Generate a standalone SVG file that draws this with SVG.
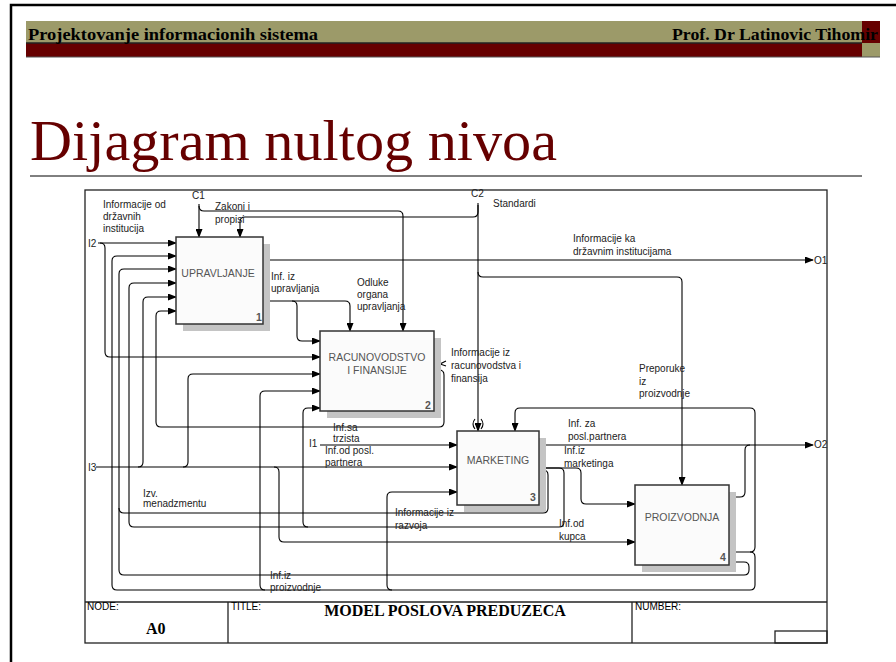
<svg xmlns="http://www.w3.org/2000/svg" width="896" height="662" viewBox="0 0 896 662">
<defs>
<marker id="ah" markerWidth="9" markerHeight="7" refX="8" refY="3.5" orient="auto" markerUnits="userSpaceOnUse">
<path d="M0,0 L9,3.5 L0,7 z" fill="#000"/>
</marker>
<style>
.c{fill:none;stroke:#000;stroke-width:1.1}
.a{marker-end:url(#ah)}
.t{font-family:"Liberation Sans",Arial,sans-serif;font-size:10px;fill:#222}
.bl{font-family:"Liberation Sans",Arial,sans-serif;font-size:10.5px;fill:#555;text-anchor:middle}
.bn{font-family:"Liberation Sans",Arial,sans-serif;font-size:10.5px;fill:#555;font-weight:bold}
.box{fill:#fbfbfb;stroke:#333;stroke-width:1.5}
.sh{fill:#c4c4c4}
.f{fill:none;stroke:#222;stroke-width:1.3}
.tb{font-family:"Liberation Sans",Arial,sans-serif;font-size:10px;fill:#000}
</style>
</defs>
<rect width="896" height="662" fill="#fff"/>
<path d="M11,662 V5 H896" fill="none" stroke="#000" stroke-width="2.5"/>
<g id="header">
<rect x="26" y="21" width="836" height="22" fill="#9c9a69"/>
<rect x="26" y="43" width="836" height="14" fill="#660000"/>
<rect x="862" y="21" width="18" height="22" fill="#660000"/>
<rect x="862" y="43" width="18" height="14" fill="#9c9a69"/>
<line x1="26" y1="43" x2="862" y2="43" stroke="#222" stroke-width="1.5"/>
<line x1="26" y1="57" x2="880" y2="57" stroke="#555" stroke-width="1"/>
<text x="28" y="40" font-family="Liberation Serif,serif" font-weight="bold" font-size="17" textLength="290" lengthAdjust="spacingAndGlyphs">Projektovanje informacionih sistema</text>
<text x="672" y="40" font-family="Liberation Serif,serif" font-weight="bold" font-size="17" textLength="206" lengthAdjust="spacingAndGlyphs">Prof. Dr Latinovic Tihomir</text>
</g>
<text x="30" y="160" font-family="Liberation Serif,serif" font-size="56" fill="#660000" textLength="527" lengthAdjust="spacingAndGlyphs">Dijagram nultog nivoa</text>
<line x1="30" y1="176" x2="862" y2="176" stroke="#000" stroke-width="1"/>
<g id="frame">
<rect x="85" y="190" width="742" height="453" class="f"/>
<line x1="85" y1="602" x2="827" y2="602" class="f"/>
<line x1="228" y1="602" x2="228" y2="643" class="f"/>
<line x1="632" y1="602" x2="632" y2="643" class="f"/>
<rect x="775" y="631" width="52" height="12" class="f"/>
<text x="87" y="610" class="tb">NODE:</text>
<text x="231" y="610" class="tb">TITLE:</text>
<text x="635" y="610" class="tb">NUMBER:</text>
<text x="146" y="634" font-family="Liberation Serif,serif" font-weight="bold" font-size="16">A0</text>
<text x="445" y="616" font-family="Liberation Serif,serif" font-weight="bold" font-size="16" text-anchor="middle">MODEL POSLOVA PREDUZECA</text>
</g>
<g id="connectors">
<path class="c a" d="M199,204 V237"/>
<path class="c a" d="M199,206 Q199,211 204,211 H398 Q403,211 403,216 V331"/>
<path class="c a" d="M478,205 V212 Q478,217 473,217 H245 Q240,217 240,222 V237"/>
<path class="c a" d="M478,203 V431"/>
<path class="c" d="M475,419 Q471,424 475,429 M481,419 Q485,424 481,429"/>
<path class="c a" d="M478,272 Q478,277 483,277 H677 Q682,277 682,282 V485"/>
<path class="c a" d="M263,260 H813"/>
<path class="c a" d="M263,301 H345 Q350,301 350,306 V331"/>
<path class="c a" d="M292,301 Q297,301 297,306 V336 Q297,341 302,341 H320"/>
<path class="c a" d="M98,243 H176"/>
<path class="c a" d="M100,243 Q105,243 105,248 V352 Q105,357 110,357 H320"/>
<path class="c a" d="M729,552 H750 Q755,552 755,557 V585 Q755,590 750,590 H117 Q112,590 112,585 V261 Q112,256 117,256 H176"/>
<path class="c a" d="M750,552 Q755,552 755,547 V413 Q755,408 750,408 H520 Q515,408 515,413 V431"/>
<path class="c a" d="M265,590 Q260,590 260,585 V396 Q260,391 265,391 H320"/>
<path class="c a" d="M392,590 Q387,590 387,585 V497 Q387,492 392,492 H457"/>
<path class="c a" d="M729,562 H744 Q749,562 749,567 V570 Q749,575 744,575 H124 Q119,575 119,570 V274 Q119,269 124,269 H176"/>
<path class="c" d="M539,470 H543 Q548,470 548,475 V508 Q548,513 543,513 H124 Q119,513 119,508"/>
<path class="c a" d="M539,468 H559 Q564,468 564,473 V522 Q564,527 559,527 H134 Q129,527 129,522 V288 Q129,283 134,283 H176"/>
<path class="c a" d="M308,527 Q303,527 303,522 V413 Q303,408 308,408 H320"/>
<path class="c a" d="M539,468 H576 Q581,468 581,473 V499 Q581,504 586,504 H635"/>
<path class="c a" d="M539,445 H813"/>
<path class="c" d="M729,497 H740 Q745,497 745,492 V450 Q745,445 750,445"/>
<path class="c a" d="M434,370 H439 Q444,370 444,375 V422 Q444,427 439,427 H161 Q156,427 156,422 V316 Q156,311 161,311 H176"/>
<path class="c a" d="M96,467 H457"/>
<path class="c a" d="M138,467 Q143,467 143,462 V302 Q143,297 148,297 H176"/>
<path class="c a" d="M183,467 Q188,467 188,462 V379 Q188,374 193,374 H320"/>
<path class="c a" d="M274,467 Q279,467 279,472 V537 Q279,542 284,542 H635"/>
<path class="c a" d="M320,445 H457"/>
<path class="c" d="M446,361 L440,364 L446,366" stroke-width="0.8"/>
</g>
<g id="n1">
<rect x="183" y="244" width="87" height="87" class="sh"/>
<rect x="176" y="237" width="87" height="87" class="box"/>
<text x="218" y="277" class="bl">UPRAVLJANJE</text>
<text x="256" y="321" class="bn">1</text>
</g>
<g id="n2">
<rect x="327" y="338" width="114" height="80" class="sh"/>
<rect x="320" y="331" width="114" height="80" class="box"/>
<text x="377" y="361" class="bl">RACUNOVODSTVO</text>
<text x="377" y="374" class="bl">I FINANSIJE</text>
<text x="425" y="409" class="bn">2</text>
</g>
<g id="n3">
<rect x="464" y="438" width="82" height="74" class="sh"/>
<rect x="457" y="431" width="82" height="74" class="box"/>
<text x="498" y="464" class="bl">MARKETING</text>
<text x="530" y="501" class="bn">3</text>
</g>
<g id="n4">
<rect x="642" y="492" width="94" height="80" class="sh"/>
<rect x="635" y="485" width="94" height="80" class="box"/>
<text x="682" y="521" class="bl">PROIZVODNJA</text>
<text x="720" y="561" class="bn">4</text>
</g>
<g id="labels">
<text x="103" y="208" class="t">Informacije od</text>
<text x="103" y="220" class="t">državnih</text>
<text x="103" y="232" class="t">institucija</text>
<text x="192" y="199" class="t">C1</text>
<text x="88" y="247" class="t">I2</text>
<text x="215" y="210" class="t">Zakoni i</text>
<text x="215" y="223" class="t">propisi</text>
<text x="471" y="197" class="t">C2</text>
<text x="493" y="207" class="t">Standardi</text>
<text x="573" y="242" class="t">Informacije ka</text>
<text x="573" y="255" class="t">državnim institucijama</text>
<text x="814" y="264" class="t">O1</text>
<text x="271" y="280" class="t">Inf. iz</text>
<text x="271" y="292" class="t">upravljanja</text>
<text x="357" y="286" class="t">Odluke</text>
<text x="357" y="298" class="t">organa</text>
<text x="357" y="310" class="t">upravljanja</text>
<text x="451" y="356" class="t">Informacije iz</text>
<text x="451" y="369" class="t">racunovodstva i</text>
<text x="451" y="382" class="t">finansija</text>
<text x="333" y="431" class="t">Inf.sa</text>
<text x="333" y="442" class="t">trzista</text>
<text x="309" y="447" class="t">I1</text>
<text x="325" y="454" class="t">Inf.od posl.</text>
<text x="325" y="466" class="t">partnera</text>
<text x="639" y="372" class="t">Preporuke</text>
<text x="639" y="385" class="t">iz</text>
<text x="639" y="397" class="t">proizvodnje</text>
<text x="568" y="427" class="t">Inf. za</text>
<text x="568" y="440" class="t">posl.partnera</text>
<text x="814" y="448" class="t">O2</text>
<text x="564" y="454" class="t">Inf.iz</text>
<text x="564" y="467" class="t">marketinga</text>
<text x="88" y="471" class="t">I3</text>
<text x="143" y="497" class="t">Izv.</text>
<text x="143" y="507" class="t">menadzmentu</text>
<text x="395" y="516" class="t">Informacije iz</text>
<text x="395" y="529" class="t">razvoja</text>
<text x="559" y="527" class="t">Inf.od</text>
<text x="559" y="540" class="t">kupca</text>
<text x="270" y="579" class="t">Inf.iz</text>
<text x="270" y="591" class="t">proizvodnje</text>
</g>
</svg>
